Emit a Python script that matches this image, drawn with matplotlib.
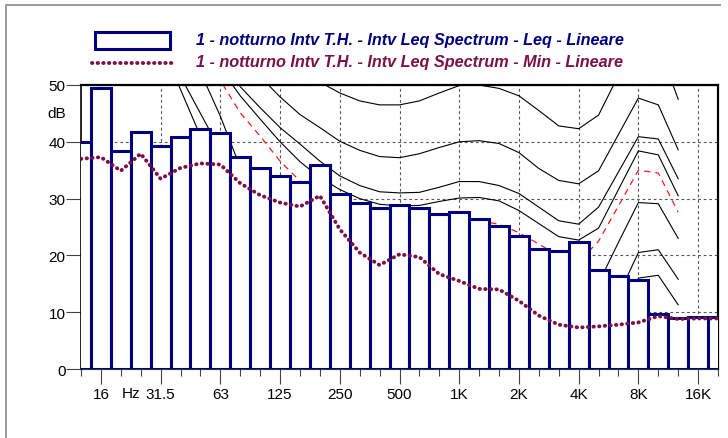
import numpy as np
import matplotlib
matplotlib.use("Agg")
from matplotlib import pyplot as plt
from matplotlib.lines import Line2D
from matplotlib.patches import Rectangle

plt.rcParams['font.family'] = ['Liberation Sans', 'DejaVu Sans']

# 1/3 octave bands, 12.5 Hz .. 20 kHz
bands = ["12.5", "16", "20", "25", "31.5", "40", "50", "63", "80", "100",
         "125", "160", "200", "250", "315", "400", "500", "630", "800",
         "1K", "1.25K", "1.6K", "2K", "2.5K", "3.15K", "4K", "5K", "6.3K",
         "8K", "10K", "12.5K", "16K", "20K"]
octave_labels = ["16", "31.5", "63", "125", "250", "500", "1K", "2K", "4K", "8K", "16K"]

leq = [40.0, 49.5, 38.4, 41.8, 39.3, 40.9, 42.25, 41.5, 37.3, 35.4,
       33.9, 33.0, 35.9, 30.8, 29.3, 28.3, 28.9, 28.4, 27.3,
       27.6, 26.4, 25.2, 23.4, 21.1, 20.7, 22.3, 17.4, 16.3,
       15.7, 9.6, 8.9, 9.1, 9.1]

lmin = [37.0, 37.3, 34.9, 37.9, 33.5, 35.4, 36.2, 36.0, 32.7, 30.6,
        29.3, 28.6, 30.5, 24.6, 20.5, 18.3, 20.2, 19.7, 16.7,
        15.5, 14.1, 14.0, 12.0, 9.4, 7.8, 7.3, 7.5, 7.8,
        8.2, 9.3, 8.8, 8.9, 8.9]

# isophone curves, each starts at band index given in *_start, ends at 12.5K
iso_a_start = 11
iso_a = [53.0, 50.5, 48.6, 47.2, 46.5, 46.5, 47.2, 48.6, 49.9, 50.0, 49.4,
         48.1, 45.5, 42.8, 42.3, 44.7, 51.7, 57.5, 57.0, 47.5]
iso_b_start = 8
iso_b = [56.0, 51.5, 47.9, 44.8, 42.5, 40.1, 38.5, 37.4, 37.2, 37.9, 39.0,
         40.0, 40.2, 39.7, 38.1, 35.3, 33.2, 32.6, 34.9, 41.3, 47.7, 46.5, 38.6]
iso_c_start = 7
iso_c = [56.0, 49.7, 46.0, 42.5, 39.6, 36.6, 34.0, 32.3, 31.2, 31.0, 31.1,
         32.0, 33.0, 33.0, 32.3, 30.9, 28.5, 26.1, 25.5, 28.5, 34.7, 40.9,
         40.5, 33.5]
iso_d_start = 7
iso_d = [53.0, 48.1, 44.0, 40.0, 36.5, 33.7, 31.6, 30.0, 29.0, 28.7, 28.8,
         29.5, 30.1, 30.2, 29.6, 27.9, 25.6, 23.3, 22.7, 24.8, 31.6, 38.4,
         37.7, 30.5]
iso_red_start = 6
iso_red = [57.0, 50.8, 45.1, 41.0, 36.6, 33.1, 30.6, 28.7, 27.0, 25.5, 25.1,
           25.2, 25.6, 26.0, 26.1, 25.5, 24.0, 22.0, 19.9, 18.8, 22.5, 28.7,
           35.0, 34.5, 27.6]
iso_e_start = 5
iso_e = [59.0, 52.3, 44.5, 35.5, 33.0, 29.5, 26.5, 24.5, 22.5, 21.0, 20.0,
         19.5, 19.5, 20.0, 20.5, 20.5, 20.0, 18.0, 16.0, 13.8, 12.8, 15.1,
         22.3, 29.3, 29.1, 23.0]
iso_f_start = 4
iso_f = [60.0, 51.5, 45.0, 38.5, 32.5, 28.0, 24.5, 21.5, 19.5, 17.5, 16.0,
         15.0, 14.5, 14.5, 15.0, 15.5, 15.5, 15.0, 13.0, 11.0, 9.0, 8.0,
         10.0, 13.0, 20.5, 21.0, 15.8]
iso_g_start = 4
iso_g = [57.5, 49.2, 41.0, 35.0, 29.0, 24.5, 21.0, 18.0, 16.0, 14.0, 12.5,
         11.5, 11.0, 11.0, 11.5, 12.0, 12.0, 11.5, 9.5, 7.5, 5.5, 4.5, 6.0,
         9.0, 16.0, 16.5, 11.3]

label_leq = "1 - notturno Intv T.H. - Intv Leq Spectrum - Leq - Lineare"
label_min = "1 - notturno Intv T.H. - Intv Leq Spectrum - Min - Lineare"

NAVY = "#000080"
PURPLE = "#7b1149"
W, H = 728, 439


def fpx(x, y):
    return x / W, 1 - y / H


fig = plt.figure(figsize=(W / 100, H / 100), dpi=100)
ax = fig.add_axes([81 / W, 1 - 370 / H, (718 - 81) / W, (370 - 86) / H])

x = np.arange(len(bands))
oct_pos = [bands.index(b) for b in octave_labels]

ax.set_xlim(0, 32)
ax.set_ylim(0, 50)
ax.set_axisbelow(True)

# isophones
black_curves = [(iso_a_start, iso_a), (iso_b_start, iso_b), (iso_c_start, iso_c),
                (iso_d_start, iso_d), (iso_e_start, iso_e), (iso_f_start, iso_f),
                (iso_g_start, iso_g)]
for start, vals in black_curves:
    ax.plot(x[start:start + len(vals)], vals, color="black", lw=0.8, zorder=1.5)
ax.plot(x[iso_red_start:iso_red_start + len(iso_red)], iso_red, color="#ff1a1a",
        lw=0.9, linestyle=(0, (5, 4)), zorder=1.6)

# Leq bars
ax.bar(x, leq, width=1.0, color="white", edgecolor=NAVY, linewidth=2.2, zorder=3)

# Min line
ax.plot(x, lmin, color=PURPLE, lw=2.8, linestyle=(0, (0.1, 1.35)),
        dash_capstyle="round", zorder=4)

# grid
ax.set_yticks([0, 10, 20, 30, 40, 50])
ax.set_xticks(oct_pos)
ax.set_xticklabels(octave_labels)
ax.set_xticks([i for i in x if i not in oct_pos], minor=True)
ax.grid(True, which="major", color="#555555", lw=0.8, linestyle=(0, (2.5, 2.5)))

for side in ["top", "right", "left"]:
    ax.spines[side].set_color("black")
ax.spines["top"].set_linewidth(1.6)
ax.spines["right"].set_linewidth(1.6)
ax.spines["left"].set_linewidth(1.2)
ax.spines["bottom"].set_linewidth(0.8)
ax.spines["bottom"].set_color("#333333")

ax.tick_params(axis="y", direction="out", length=10.5, width=0.8, color="#444444",
               pad=0.5, labelsize=11)
ax.tick_params(axis="x", which="major", direction="out", length=11, width=0.8,
               color="#444444", pad=2, labelsize=11)
ax.tick_params(axis="x", which="minor", direction="out", length=4.8, width=0.8,
               color="#444444")

ax.text(2.5, -0.085, "Hz", transform=ax.get_xaxis_transform(), ha="center",
        va="center", fontsize=11)
fig.text(*fpx(66, 114), "dB", ha="right", va="center", fontsize=11)

# legend
fig.add_artist(Rectangle(fpx(95, 50), 75 / W, 17 / H, transform=fig.transFigure,
                         facecolor="white", edgecolor=NAVY, lw=2.2))
fig.add_artist(Line2D([92 / W, 172 / W], [1 - 64 / H, 1 - 64 / H],
                      transform=fig.transFigure, color=PURPLE, lw=2.8,
                      linestyle=(0, (0.1, 1.35)), dash_capstyle="round"))
fig.text(*fpx(196, 41), label_leq, color=NAVY, fontsize=11.7, fontweight="bold",
         fontstyle="italic", va="center", ha="left")
fig.text(*fpx(196, 63), label_min, color=PURPLE, fontsize=11.7, fontweight="bold",
         fontstyle="italic", va="center", ha="left")

# outer frame
fig.add_artist(Line2D([5.5 / W, 5.5 / W], [0, 1 - 5.5 / H], transform=fig.transFigure,
                      color="#9a9a9a", lw=1.4))
fig.add_artist(Line2D([5.5 / W, 720 / W], [1 - 5.5 / H, 1 - 5.5 / H],
                      transform=fig.transFigure, color="#9a9a9a", lw=1.4))

fig.savefig("out.png", dpi=100)
